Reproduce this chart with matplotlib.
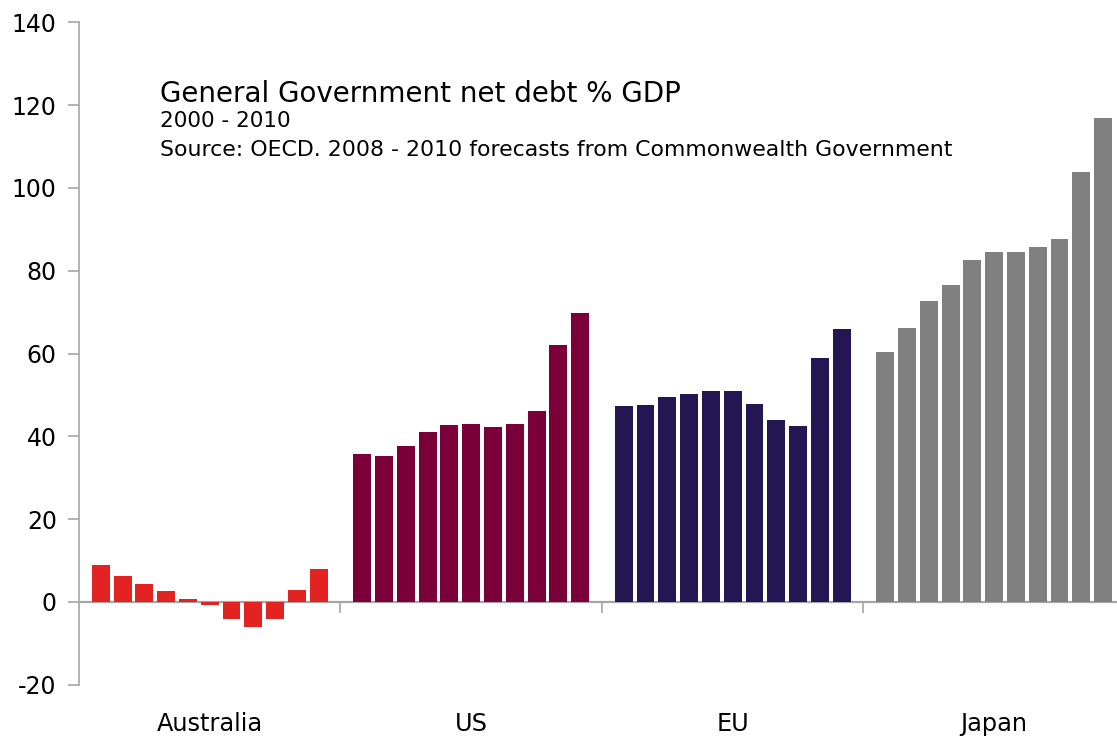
import matplotlib
matplotlib.use("Agg")
import matplotlib.pyplot as plt
import numpy as np

groups = ["Australia", "US", "EU", "Japan"]
years = list(range(2000, 2011))
australia = [9.0, 6.2, 4.3, 2.6, 0.7, -0.8, -4.2, -6.0, -4.2, 2.8, 7.9]
us = [35.7, 35.2, 37.6, 41.0, 42.7, 42.9, 42.2, 42.9, 46.1, 62.0, 69.7]
eu = [47.3, 47.5, 49.4, 50.2, 50.9, 50.9, 47.8, 43.9, 42.4, 58.9, 65.9]
japan = [60.3, 66.1, 72.7, 76.5, 82.5, 84.5, 84.5, 85.7, 87.6, 103.8, 116.9]
series = [australia, us, eu, japan]
colors = ["#E32322", "#7B003A", "#241653", "#808080"]
yticks = [-20, 0, 20, 40, 60, 80, 100, 120, 140]

W, H = 1117, 736
fig = plt.figure(figsize=(W / 100, H / 100), dpi=100)
ax = fig.add_axes([79 / W, (H - 684.7) / H, 1 - 79 / W, (684.7 - 22.4) / H])

n = len(years)
slot = n + 1
for g, (vals, c) in enumerate(zip(series, colors)):
    x = g * slot + 1 + np.arange(n)
    ax.bar(x, vals, width=0.82, color=c, zorder=2)

ax.set_xlim(0, (1117 - 79) / 21.79)
ax.set_ylim(-20, 140)
ax.set_yticks(yticks)
ax.set_yticklabels([str(v) for v in yticks], fontsize=17)

grey = "#A6A6A6"
for s in ["top", "right"]:
    ax.spines[s].set_visible(False)
ax.spines["left"].set_color(grey)
ax.spines["left"].set_linewidth(1.2)
ax.spines["bottom"].set_position(("data", 0))
ax.spines["bottom"].set_color(grey)
ax.spines["bottom"].set_linewidth(1.6)
ax.spines["bottom"].set_zorder(1)
ax.tick_params(axis="y", direction="out", length=8, width=1.2, color=grey, pad=8)
ax.set_xticks([slot * k for k in range(1, 4)])
ax.set_xticklabels([])
ax.tick_params(axis="x", direction="out", length=8, width=1.2, color=grey)

for g, name in enumerate(groups):
    ax.text(g * slot + slot / 2, -29.4, name, ha="center", va="center", fontsize=17.3)

fig.text(160 / W, 1 - 102 / H, "General Government net debt % GDP", fontsize=20, va="baseline")
fig.text(160 / W, 1 - 127 / H, "2000 - 2010", fontsize=15.5, va="baseline")
fig.text(160 / W, 1 - 156 / H, "Source: OECD. 2008 - 2010 forecasts from Commonwealth Government",
         fontsize=15.8, va="baseline")

fig.savefig("out.png", dpi=100)
